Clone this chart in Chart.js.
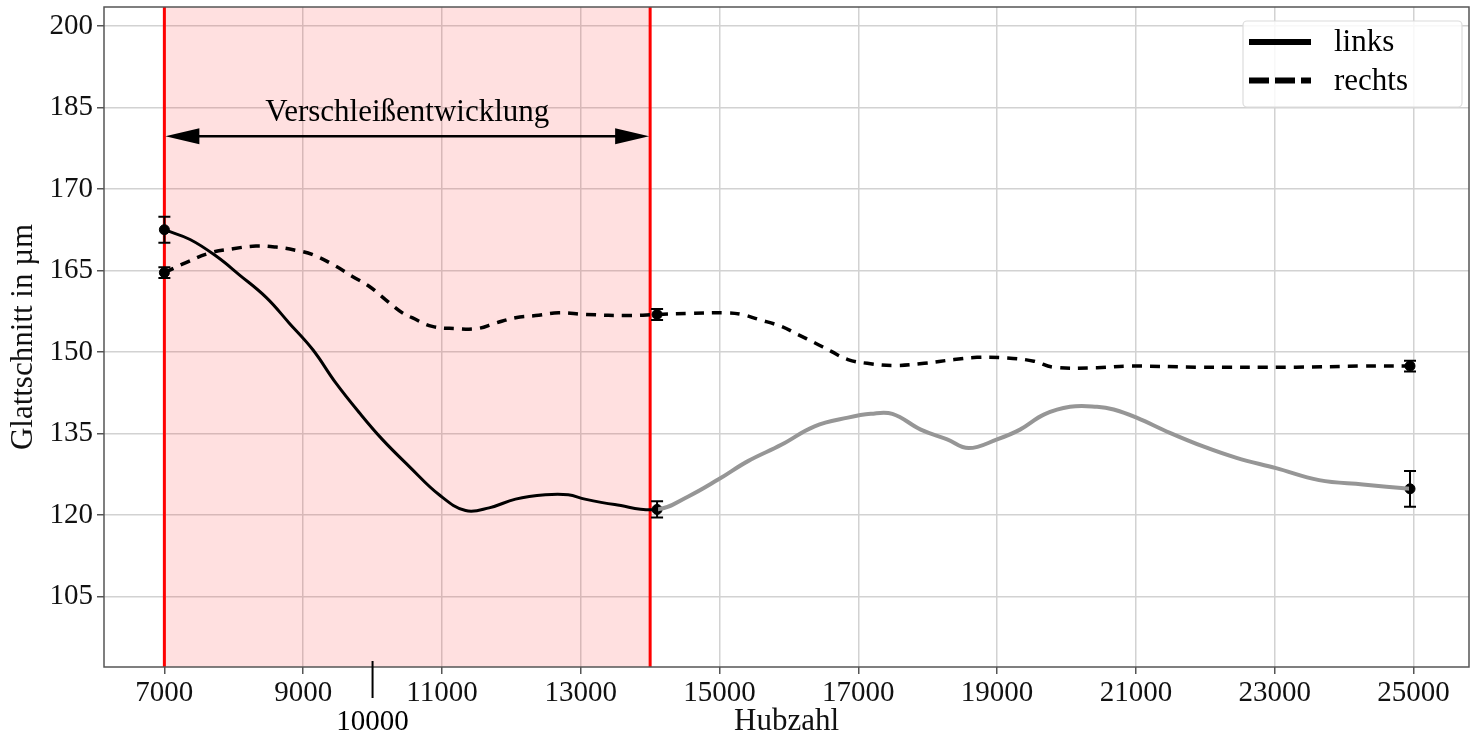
<!DOCTYPE html>
<html>
<head>
<meta charset="utf-8">
<script src="https://cdn.jsdelivr.net/npm/chart.js@4.4.1/dist/chart.umd.min.js"></script>
<style>
  html, body { margin: 0; padding: 0; background: #fff; }
  #wrap { width: 1475px; height: 734px; }
</style>
</head>
<body>
<div id="wrap"><canvas id="chart" width="1475" height="734"></canvas></div>
<script>
// --- DATA ---
const xTicks = [7000, 9000, 11000, 13000, 15000, 17000, 19000, 21000, 23000, 25000];
const yTicks = [105, 120, 135, 150, 165, 180, 195, 210];
const yTickLabels = ['105', '120', '135', '150', '165', '170', '185', '200'];
const extraTick = 10000;

// measured points with error bars
const measX = [7000, 14100, 24950];
const measLinks = [172.5, 121.0, 124.8];
const errLinks = [2.4, 1.5, 3.3];
const measRechts = [164.6, 156.9, 147.4];
const errRechts = [1.0, 1.0, 1.0];

// fitted curves
const linksX = [7000, 7370, 7750, 8080, 8470, 8800, 9140, 9470, 9810, 10140, 10530, 10960, 11340, 11680,
  12060, 12490, 12820, 13060, 13490, 14100, 14550, 14980, 15410, 15890, 16370, 16850, 17180, 17490,
  17900, 18280, 18590, 19000, 19330, 19680, 20050, 20440, 20680, 21010, 21490, 21970, 22450, 23020,
  23640, 24270, 24950];
const linksY = [172.5, 170.7, 167.6, 164.2, 160.0, 155.3, 150.4, 144.3, 138.8, 133.9, 128.9, 123.7, 120.8, 121.3,
  122.9, 123.7, 123.7, 122.9, 121.9, 121.0, 123.4, 126.5, 129.9, 132.9, 136.3, 137.9, 138.6, 138.6,
  135.7, 133.9, 132.3, 133.9, 135.7, 138.5, 139.9, 139.9, 139.4, 137.9, 135.1, 132.6, 130.5, 128.6,
  126.4, 125.6, 124.8];
const rechtsX = [7000, 7320, 7650, 7990, 8320, 8610, 8900, 9140, 9470, 9710, 9950, 10190, 10430, 10570,
  10860, 11200, 11510, 11770, 12060, 12350, 12680, 13060, 13730, 14100, 14600, 15120, 15320, 15560,
  15890, 16130, 16370, 16610, 16850, 17130, 17520, 17950, 18380, 18710, 19140, 19530, 19810, 20440,
  20910, 21870, 23310, 24270, 24950];
const rechtsY = [164.6, 166.5, 168.2, 169.0, 169.5, 169.3, 168.7, 167.9, 165.8, 163.9, 162.1, 159.6, 157.2, 156.3,
  154.7, 154.3, 154.3, 155.3, 156.3, 156.7, 157.2, 156.9, 156.7, 156.9, 157.1, 157.2, 156.9, 156.0,
  154.7, 153.2, 151.7, 150.1, 148.6, 147.9, 147.5, 147.9, 148.6, 149.0, 148.9, 148.3, 147.2, 147.1,
  147.4, 147.2, 147.2, 147.4, 147.4];

const grayFrom = 14100;          // links curve turns gray after this
const spanStart = 7000, spanEnd = 14000;
const arrowY = 189.7, labelY = 192.6;
const spanLabel = 'Verschleißentwicklung';

const FONT = '"Liberation Serif", "Times New Roman", serif';

const toPts = (xs, ys) => xs.map((x, i) => ({ x: x, y: ys[i] }));

// --- DECORATION PLUGIN ---
const decor = {
  id: 'decor',
  beforeDatasetsDraw(chart) {
    const { ctx, chartArea: a, scales: { x } } = chart;
    const x0 = x.getPixelForValue(spanStart), x1 = x.getPixelForValue(spanEnd);
    ctx.save();
    ctx.fillStyle = 'rgba(255, 0, 0, 0.12)';
    ctx.fillRect(x0, a.top, x1 - x0, a.bottom - a.top);
    ctx.strokeStyle = '#ff0000';
    ctx.lineWidth = 3;
    [x0, x1].forEach(px => {
      ctx.beginPath();
      ctx.moveTo(px, a.top);
      ctx.lineTo(px, a.bottom);
      ctx.stroke();
    });
    ctx.restore();
  },
  afterDatasetsDraw(chart) {
    const { ctx, chartArea: a, scales: { x, y } } = chart;
    ctx.save();

    // error bars
    ctx.strokeStyle = '#000';
    ctx.lineWidth = 2;
    const bars = (vals, errs) => vals.forEach((v, i) => {
      const px = x.getPixelForValue(measX[i]);
      const yt = y.getPixelForValue(v + errs[i]), yb = y.getPixelForValue(v - errs[i]);
      ctx.beginPath();
      ctx.moveTo(px, yt); ctx.lineTo(px, yb);
      ctx.moveTo(px - 6, yt); ctx.lineTo(px + 6, yt);
      ctx.moveTo(px - 6, yb); ctx.lineTo(px + 6, yb);
      ctx.stroke();
    });
    bars(measLinks, errLinks);
    bars(measRechts, errRechts);

    // double arrow
    const ax0 = x.getPixelForValue(spanStart) + 1, ax1 = x.getPixelForValue(spanEnd) - 1;
    const ay = y.getPixelForValue(arrowY);
    ctx.lineWidth = 2.5;
    ctx.beginPath();
    ctx.moveTo(ax0 + 20, ay); ctx.lineTo(ax1 - 20, ay);
    ctx.stroke();
    ctx.fillStyle = '#000';
    ctx.beginPath();
    ctx.moveTo(ax0, ay); ctx.lineTo(ax0 + 34, ay - 8); ctx.lineTo(ax0 + 34, ay + 8); ctx.closePath();
    ctx.moveTo(ax1, ay); ctx.lineTo(ax1 - 34, ay - 8); ctx.lineTo(ax1 - 34, ay + 8); ctx.closePath();
    ctx.fill();

    ctx.font = '31px ' + FONT;
    ctx.textAlign = 'center';
    ctx.textBaseline = 'alphabetic';
    ctx.fillText(spanLabel, (ax0 + ax1) / 2, y.getPixelForValue(labelY));

    // frame
    ctx.strokeStyle = '#555';
    ctx.lineWidth = 1.5;
    ctx.strokeRect(a.left, a.top, a.right - a.left, a.bottom - a.top);

    // extra 10000 tick below the axis
    const ex = x.getPixelForValue(extraTick);
    ctx.strokeStyle = '#000';
    ctx.lineWidth = 2;
    ctx.beginPath();
    ctx.moveTo(ex, a.bottom - 6); ctx.lineTo(ex, a.bottom + 31);
    ctx.stroke();
    ctx.font = '29px ' + FONT;
    ctx.textBaseline = 'middle';
    ctx.fillText(String(extraTick), ex, a.bottom + 55);

    // legend
    const lx = a.right - 226, ly = a.top + 14, lw = 219, lh = 86;
    ctx.fillStyle = 'rgba(255,255,255,0.85)';
    ctx.strokeStyle = '#dcdcdc';
    ctx.lineWidth = 1.2;
    ctx.beginPath();
    ctx.roundRect(lx, ly, lw, lh, 4);
    ctx.fill();
    ctx.stroke();
    const items = chart.data.datasets.filter(d => d.label);
    items.forEach((d, i) => {
      const yy = ly + 21 + i * 38.5;
      ctx.strokeStyle = '#000';
      ctx.lineWidth = 6;
      ctx.setLineDash(d.borderDash && d.borderDash.length ? [20, 6] : []);
      ctx.beginPath();
      ctx.moveTo(lx + 6, yy); ctx.lineTo(lx + 68, yy);
      ctx.stroke();
      ctx.setLineDash([]);
      ctx.fillStyle = '#000';
      ctx.font = '31px ' + FONT;
      ctx.textAlign = 'left';
      ctx.textBaseline = 'alphabetic';
      ctx.fillText(d.label, lx + 91, yy + 9);
    });
    ctx.restore();
  }
};

// --- CHART ---
new Chart(document.getElementById('chart'), {
  type: 'line',
  data: {
    datasets: [
      {
        label: 'links',
        data: toPts(linksX, linksY),
        borderColor: '#000',
        borderWidth: 3,
        pointRadius: 0,
        tension: 0.4,
        segment: {
          borderColor: c => c.p0.parsed.x >= grayFrom ? '#969696' : '#000',
          borderWidth: c => c.p0.parsed.x >= grayFrom ? 4 : 3
        }
      },
      {
        label: 'rechts',
        data: toPts(rechtsX, rechtsY),
        borderColor: '#000',
        borderWidth: 3.5,
        borderDash: [10, 8],
        pointRadius: 0,
        tension: 0.4
      },
      {
        data: toPts(measX, measLinks).concat(toPts(measX, measRechts)),
        showLine: false,
        pointRadius: 5,
        pointBackgroundColor: '#000',
        pointBorderColor: '#000'
      }
    ]
  },
  options: {
    responsive: false,
    animation: false,
    devicePixelRatio: 1,
    layout: { padding: { top: 7, right: 2, left: 0, bottom: 0 } },
    plugins: { legend: { display: false }, tooltip: { enabled: false } },
    scales: {
      x: {
        type: 'linear',
        min: 6130,
        max: 25800,
        afterBuildTicks: s => { s.ticks = xTicks.map(v => ({ value: v })); },
        afterFit: s => { s.height = 67; s.paddingLeft = 0; s.paddingRight = 0; },
        grid: { color: '#d2d2d2', lineWidth: 1.5, tickLength: 7, tickColor: '#555' },
        border: { display: false },
        ticks: { color: '#111', font: { family: FONT, size: 29 }, padding: 2, maxRotation: 0, autoSkip: false,
          callback: v => String(v) },
        title: { display: true, text: 'Hubzahl', color: '#111', font: { family: FONT, size: 31 },
          padding: { top: 0, bottom: -6 } }
      },
      y: {
        type: 'linear',
        min: 92,
        max: 213.5,
        afterBuildTicks: s => { s.ticks = yTicks.map(v => ({ value: v })); },
        afterFit: s => { s.width = 104; s.paddingTop = 0; s.paddingBottom = 0; },
        grid: { color: '#d2d2d2', lineWidth: 1.5, tickLength: 7, tickColor: '#555' },
        border: { display: false },
        ticks: { color: '#111', font: { family: FONT, size: 29 }, padding: 4, autoSkip: false,
          callback: v => yTickLabels[yTicks.indexOf(v)] },
        title: { display: true, text: 'Glattschnitt in µm', color: '#111', font: { family: FONT, size: 31 },
          padding: { top: 5, bottom: 0 } }
      }
    }
  },
  plugins: [decor]
});
</script>
</body>
</html>
